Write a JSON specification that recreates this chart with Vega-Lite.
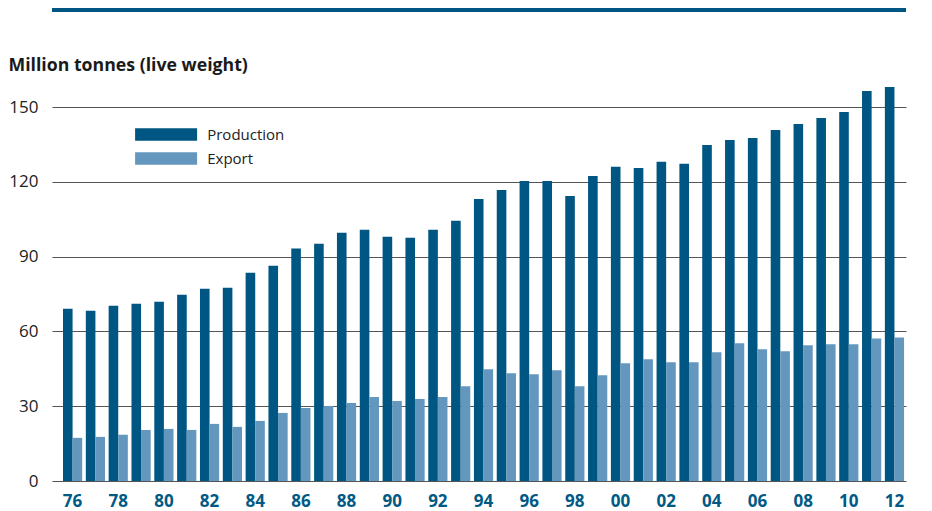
{
  "$schema": "https://vega.github.io/schema/vega-lite/v6.json",
  "width": 854,
  "height": 374,
  "autosize": {"type": "none"},
  "padding": {"left": 52, "top": 107, "right": 26, "bottom": 30},
  "background": "white",
  "data": {
    "values": [
      {"year": "76", "series": "Production", "value": 69.1},
      {"year": "77", "series": "Production", "value": 68.3},
      {"year": "78", "series": "Production", "value": 70.3},
      {"year": "79", "series": "Production", "value": 71.1},
      {"year": "80", "series": "Production", "value": 71.9},
      {"year": "81", "series": "Production", "value": 74.7},
      {"year": "82", "series": "Production", "value": 77.1},
      {"year": "83", "series": "Production", "value": 77.5},
      {"year": "84", "series": "Production", "value": 83.5},
      {"year": "85", "series": "Production", "value": 86.3},
      {"year": "86", "series": "Production", "value": 93.2},
      {"year": "87", "series": "Production", "value": 95.2},
      {"year": "88", "series": "Production", "value": 99.6},
      {"year": "89", "series": "Production", "value": 100.8},
      {"year": "90", "series": "Production", "value": 98.0},
      {"year": "91", "series": "Production", "value": 97.6},
      {"year": "92", "series": "Production", "value": 100.8},
      {"year": "93", "series": "Production", "value": 104.4},
      {"year": "94", "series": "Production", "value": 113.1},
      {"year": "95", "series": "Production", "value": 116.7},
      {"year": "96", "series": "Production", "value": 120.3},
      {"year": "97", "series": "Production", "value": 120.3},
      {"year": "98", "series": "Production", "value": 114.3},
      {"year": "99", "series": "Production", "value": 122.3},
      {"year": "00", "series": "Production", "value": 126.0},
      {"year": "01", "series": "Production", "value": 125.5},
      {"year": "02", "series": "Production", "value": 128.0},
      {"year": "03", "series": "Production", "value": 127.2},
      {"year": "04", "series": "Production", "value": 134.8},
      {"year": "05", "series": "Production", "value": 136.8},
      {"year": "06", "series": "Production", "value": 137.6},
      {"year": "07", "series": "Production", "value": 140.8},
      {"year": "08", "series": "Production", "value": 143.2},
      {"year": "09", "series": "Production", "value": 145.6},
      {"year": "10", "series": "Production", "value": 148.0},
      {"year": "11", "series": "Production", "value": 156.4},
      {"year": "12", "series": "Production", "value": 158.0},
      {"year": "76", "series": "Export", "value": 17.3},
      {"year": "77", "series": "Export", "value": 17.7},
      {"year": "78", "series": "Export", "value": 18.5},
      {"year": "79", "series": "Export", "value": 20.5},
      {"year": "80", "series": "Export", "value": 20.9},
      {"year": "81", "series": "Export", "value": 20.5},
      {"year": "82", "series": "Export", "value": 22.9},
      {"year": "83", "series": "Export", "value": 21.7},
      {"year": "84", "series": "Export", "value": 24.1},
      {"year": "85", "series": "Export", "value": 27.3},
      {"year": "86", "series": "Export", "value": 29.3},
      {"year": "87", "series": "Export", "value": 30.1},
      {"year": "88", "series": "Export", "value": 31.3},
      {"year": "89", "series": "Export", "value": 33.7},
      {"year": "90", "series": "Export", "value": 32.1},
      {"year": "91", "series": "Export", "value": 32.9},
      {"year": "92", "series": "Export", "value": 33.7},
      {"year": "93", "series": "Export", "value": 38.0},
      {"year": "94", "series": "Export", "value": 44.8},
      {"year": "95", "series": "Export", "value": 43.2},
      {"year": "96", "series": "Export", "value": 42.8},
      {"year": "97", "series": "Export", "value": 44.4},
      {"year": "98", "series": "Export", "value": 38.0},
      {"year": "99", "series": "Export", "value": 42.4},
      {"year": "00", "series": "Export", "value": 47.2},
      {"year": "01", "series": "Export", "value": 48.8},
      {"year": "02", "series": "Export", "value": 47.6},
      {"year": "03", "series": "Export", "value": 47.6},
      {"year": "04", "series": "Export", "value": 51.6},
      {"year": "05", "series": "Export", "value": 55.2},
      {"year": "06", "series": "Export", "value": 52.8},
      {"year": "07", "series": "Export", "value": 52.0},
      {"year": "08", "series": "Export", "value": 54.4},
      {"year": "09", "series": "Export", "value": 54.8},
      {"year": "10", "series": "Export", "value": 54.8},
      {"year": "11", "series": "Export", "value": 57.2},
      {"year": "12", "series": "Export", "value": 57.6}
    ]
  },
  "layer": [
    {
      "mark": {"type": "bar", "clip": false},
      "encoding": {
        "x": {
          "field": "year",
          "type": "nominal",
          "sort": null,
          "scale": {"paddingInner": 0.159, "paddingOuter": 0.283, "align": 0.85},
          "axis": {
            "values": ["76","78","80","82","84","86","88","90","92","94","96","98","00","02","04","06","08","10","12"],
            "title": null,
            "labelAngle": 0,
            "domain": false,
            "ticks": false,
            "labelFont": "Open Sans",
            "labelFontSize": 17,
            "labelFontWeight": "bold",
            "labelColor": "#005a85",
            "labelPadding": 12
          }
        },
        "xOffset": {
          "field": "series",
          "type": "nominal",
          "sort": ["Production", "Export"],
          "scale": {"paddingInner": 0, "paddingOuter": 0}
        },
        "y": {
          "field": "value",
          "type": "quantitative",
          "scale": {"domain": [0, 150], "nice": false},
          "axis": {
            "values": [0, 30, 60, 90, 120, 150],
            "title": "Million tonnes (live weight)",
            "titleAngle": 0,
            "titleAlign": "left",
            "titleBaseline": "alphabetic",
            "titleX": -44,
            "titleY": -37,
            "titleFont": "Open Sans",
            "titleFontSize": 17.7,
            "titleFontWeight": "bold",
            "titleColor": "#1a1a1a",
            "domain": false,
            "ticks": false,
            "grid": true,
            "gridColor": "#555555",
            "gridWidth": 1.2,
            "labelFont": "Open Sans",
            "labelFontSize": 17,
            "labelColor": "#222222",
            "labelPadding": 14
          }
        },
        "color": {
          "field": "series",
          "type": "nominal",
          "sort": ["Production", "Export"],
          "scale": {"domain": ["Production", "Export"], "range": ["#005682", "#6397bd"]},
          "legend": {
            "title": null,
            "orient": "none",
            "legendX": 101.6,
            "legendY": 15,
            "padding": 0,
            "symbolType": "M-2.5,-0.5H2.5V0.5H-2.5Z",
            "symbolSize": 615,
            "symbolStrokeWidth": 0,
            "symbolOpacity": 1,
            "labelFont": "Open Sans",
            "labelFontSize": 15,
            "labelColor": "#222222",
            "labelOffset": 28.6,
            "rowPadding": 3
          }
        }
      }
    },
    {
      "mark": {"type": "rule", "color": "#005682", "strokeWidth": 3, "clip": false},
      "encoding": {"y": {"datum": 189}}
    }
  ],
  "config": {
    "view": {"stroke": null}
  }
}
